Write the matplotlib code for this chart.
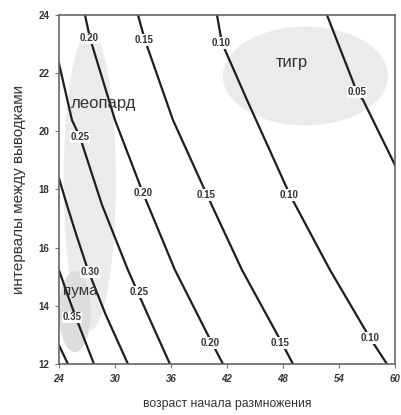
import matplotlib.pyplot as plt
from matplotlib.patches import Ellipse

plt.rcParams['font.family'] = ['Liberation Sans', 'DejaVu Sans']

# contour lines: level -> (age, interval) points
level_lines = {
    '0.40': [(24.0, 12.65), (24.96, 12.0)],
    '0.35': [(24.0, 15.23), (24.9, 14.4), (25.8, 13.61), (27.75, 12.0)],
    '0.30': [(24.0, 18.39), (24.86, 17.46), (25.9, 16.4), (27.11, 15.23),
             (29.0, 13.7), (31.39, 12.0)],
    '0.25': [(24.0, 22.34), (25.39, 20.39), (26.25, 19.8), (28.61, 17.47),
             (31.39, 15.23), (33.5, 13.7), (35.89, 12.0)],
    '0.20': [(26.79, 24.0), (27.32, 23.21), (30.0, 20.39), (33.0, 17.88),
             (36.43, 15.23), (40.39, 12.72), (41.57, 12.0)],
    '0.15': [(32.46, 24.0), (33.21, 23.14), (36.21, 20.39), (39.86, 17.81),
             (43.61, 15.23), (47.89, 12.72), (49.07, 12.0)],
    '0.10': [(40.93, 24.0), (41.46, 23.04), (44.14, 21.08), (48.75, 17.81),
             (53.04, 15.23), (57.32, 12.89), (59.14, 12.0)],
    '0.05': [(52.71, 24.0), (55.93, 21.35), (56.57, 21.08), (60.0, 18.84)],
}

# where the level labels sit on each line
level_labels = {
    '0.35': [(25.4, 13.6)],
    '0.30': [(27.35, 15.16)],
    '0.25': [(26.25, 19.8), (32.6, 14.47)],
    '0.20': [(27.2, 23.2), (33.0, 17.88), (40.2, 12.72)],
    '0.15': [(33.1, 23.14), (39.8, 17.81), (47.7, 12.72)],
    '0.10': [(41.4, 23.04), (48.6, 17.81), (57.3, 12.89)],
    '0.05': [(55.93, 21.35)],
}

# species ranges (centre x, centre y, width, height) and names
species = ['леопард', 'пума', 'тигр']
species_areas = [(27.3, 18.3, 5.6, 10.3), (25.7, 13.8, 3.4, 2.8), (50.4, 21.9, 17.7, 3.4)]
species_text = [(25.3, 20.97), (24.4, 14.5), (49.0, 22.35)]

x_ticks = [24, 30, 36, 42, 48, 54, 60]
y_ticks = [12, 14, 16, 18, 20, 22, 24]

fig = plt.figure(figsize=(4.01, 4.15), dpi=100)
ax = fig.add_axes([0.147, 0.123, 0.838, 0.841])

for (cx, cy, w, h), name in zip(species_areas, species):
    shade = '#dddddd' if name == 'пума' else '#ebebeb'
    ax.add_patch(Ellipse((cx, cy), w, h, facecolor=shade, edgecolor='none', zorder=0))

for level, pts in level_lines.items():
    xs = [p[0] for p in pts]
    ys = [p[1] for p in pts]
    ax.plot(xs, ys, color='#1e1e1e', lw=1.6, zorder=2, solid_joinstyle='round')

for level, spots in level_labels.items():
    for x, y in spots:
        ax.text(x, y, level, fontsize=7, fontweight='bold', color='#333333',
                ha='center', va='center', zorder=3,
                bbox=dict(facecolor='white', edgecolor='none', pad=0.5))

for name, (x, y) in zip(species, species_text):
    ha = 'center' if name == 'тигр' else 'left'
    size = 11 if name == 'пума' else 12
    ax.text(x, y, name, fontsize=size, color='#333333', ha=ha, va='center', zorder=4)

ax.set_xlim(24, 60)
ax.set_ylim(12, 24)
ax.set_xticks(x_ticks)
ax.set_yticks(y_ticks)
ax.set_xticklabels([str(t) for t in x_ticks], fontsize=7, fontweight='bold',
                   fontstyle='italic', color='#333333')
ax.set_yticklabels([str(t) for t in y_ticks], fontsize=7, fontweight='bold', color='#333333')
ax.tick_params(direction='out', length=3, width=0.8, color='#777777', pad=4)
for s in ax.spines.values():
    s.set_color('#666666')
    s.set_linewidth(1.2)

ax.set_xlabel('возраст начала размножения', fontsize=8.8, color='#333333', labelpad=10)
ax.set_ylabel('интервалы между выводками', fontsize=11, color='#333333', labelpad=9)

fig.savefig('out.png', dpi=100)
